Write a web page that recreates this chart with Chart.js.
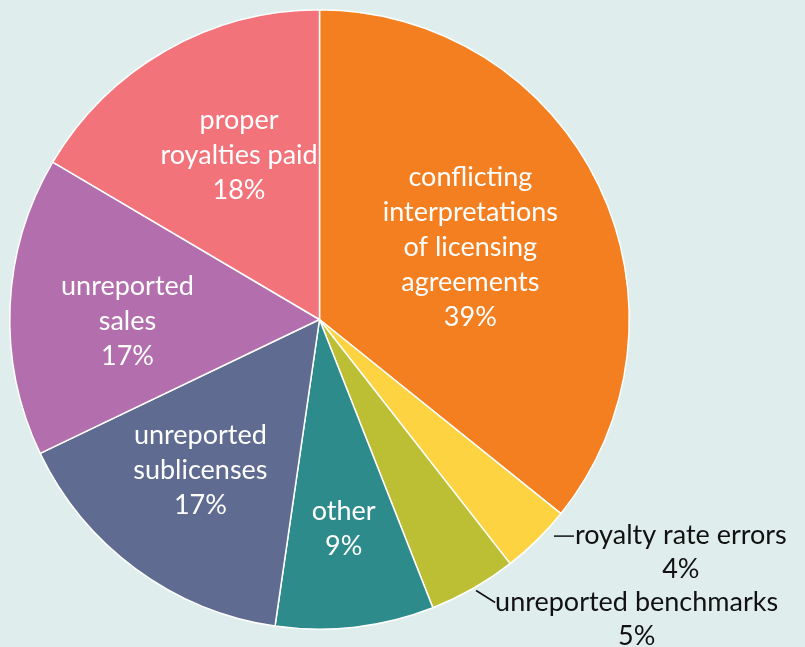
<!DOCTYPE html>
<html lang="en">
<head>
  <meta charset="UTF-8" />
  <title>Audit findings</title>
  <script src="https://cdn.jsdelivr.net/npm/chart.js"></script>
  <style>
    html, body { margin: 0; padding: 0; background: #e0eded; }
    canvas { display: block; }
  </style>
</head>
<body>
  <canvas id="pieChart" width="805" height="647"></canvas>

  <script>
    // Slices, clockwise from 12 o'clock
    const categories = [
      ['conflicting', 'interpretations', 'of licensing', 'agreements'],
      ['royalty rate errors'],
      ['unreported benchmarks'],
      ['other'],
      ['unreported', 'sublicenses'],
      ['unreported', 'sales'],
      ['proper', 'royalties paid']
    ];
    const shares = [39, 4, 5, 9, 17, 17, 18];
    const sliceColors = ['#f47f21', '#fed342', '#bcbe33', '#2e8b8c', '#5f6b91', '#b36fad', '#f2737a'];

    // label placement: fraction of radius out, and a small turn (deg) off the slice middle
    // null distance = label sits outside with a leader
    const labelDist = [0.54, null, null, 0.68, 0.62, 0.62, 0.59];
    const labelTurn = [0, 0, 0, 0, 2, -3, 3.6];

    const FONT = '27px Lato, "Open Sans", sans-serif';
    const LINE = 35;

    const labelPlugin = {
      id: 'sliceLabels',
      afterDatasetsDraw(chart) {
        const ctx = chart.ctx;
        const arcs = chart.getDatasetMeta(0).data;
        ctx.save();
        ctx.font = FONT;
        ctx.textBaseline = 'middle';
        arcs.forEach((arc, i) => {
          const mid = (arc.startAngle + arc.endAngle) / 2;
          const lines = categories[i].concat([shares[i] + '%']);
          if (labelDist[i] !== null) {
            const a = mid + labelTurn[i] * Math.PI / 180;
            const r = arc.outerRadius * labelDist[i];
            const cx = arc.x + Math.cos(a) * r;
            const cy = arc.y + Math.sin(a) * r;
            ctx.fillStyle = '#ffffff';
            ctx.textAlign = 'center';
            const top = cy - (lines.length - 1) * LINE / 2;
            lines.forEach((t, k) => ctx.fillText(t, cx, top + k * LINE));
          } else {
            const ex = arc.x + Math.cos(mid) * arc.outerRadius;
            const ey = arc.y + Math.sin(mid) * arc.outerRadius;
            ctx.fillStyle = '#111111';
            ctx.strokeStyle = '#111111';
            ctx.lineWidth = 1.5;
            ctx.textAlign = 'left';
            let tx, ty;
            if (i === 1) {
              // short dash leader, text right after it
              tx = ex + 17; ty = ey - 5;
              ctx.beginPath();
              ctx.moveTo(tx, ty + 1);
              ctx.lineTo(tx + 20, ty + 1);
              ctx.stroke();
              tx += 21;
            } else {
              // slanted leader
              tx = ex + 22; ty = ey + 14;
              ctx.beginPath();
              ctx.moveTo(ex + 3, ey + 2);
              ctx.lineTo(tx, ty);
              ctx.stroke();
            }
            const w = ctx.measureText(lines[0]).width;
            ctx.fillText(lines[0], tx, ty);
            ctx.textAlign = 'center';
            ctx.fillText(lines[1], tx + w / 2, ty + LINE - 1);
          }
        });
        ctx.restore();
      }
    };

    const ctx = document.getElementById('pieChart').getContext('2d');
    const pieChart = new Chart(ctx, {
      type: 'pie',
      data: {
        labels: categories.map(c => c.join(' ')),
        datasets: [{
          data: shares,
          backgroundColor: sliceColors,
          borderColor: '#ffffff',
          borderWidth: 1.5
        }]
      },
      options: {
        responsive: false,
        animation: false,
        layout: { padding: { left: 9, top: 9, right: 175, bottom: 17 } },
        plugins: {
          legend: { display: false },
          tooltip: { enabled: false }
        }
      },
      plugins: [labelPlugin]
    });
  </script>
</body>
</html>
